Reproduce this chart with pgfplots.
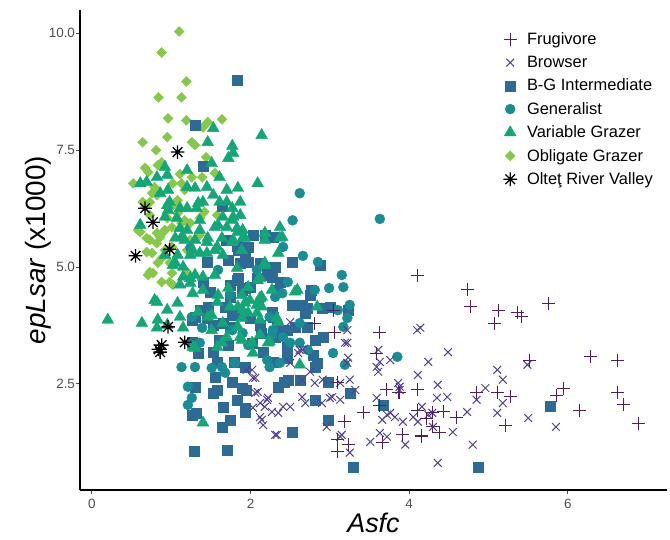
\documentclass[border=0pt]{standalone}
\usepackage{fontspec}
\setmainfont{Liberation Sans}
\usepackage{pgfplots}
\pgfplotsset{compat=1.18}
\definecolor{cFrug}{HTML}{4F1F63}
\definecolor{cBrow}{HTML}{4F4392}
\definecolor{cBG}{HTML}{2E6A96}
\definecolor{cGen}{HTML}{1A8C94}
\definecolor{cVG}{HTML}{14A677}
\definecolor{cOG}{HTML}{86C94A}
\definecolor{tickgray}{HTML}{4D4D4D}
\pgfdeclareplotmark{ast}{%
 \pgfpathmoveto{\pgfqpoint{-\pgfplotmarksize}{0pt}}\pgfpathlineto{\pgfqpoint{\pgfplotmarksize}{0pt}}%
 \pgfpathmoveto{\pgfqpoint{0pt}{-\pgfplotmarksize}}\pgfpathlineto{\pgfqpoint{0pt}{\pgfplotmarksize}}%
 \pgfpathmoveto{\pgfqpoint{-.707\pgfplotmarksize}{-.707\pgfplotmarksize}}\pgfpathlineto{\pgfqpoint{.707\pgfplotmarksize}{.707\pgfplotmarksize}}%
 \pgfpathmoveto{\pgfqpoint{-.707\pgfplotmarksize}{.707\pgfplotmarksize}}\pgfpathlineto{\pgfqpoint{.707\pgfplotmarksize}{-.707\pgfplotmarksize}}%
 \pgfusepathqstroke}
\pgfplotsset{
 frug/.style={only marks, mark=+, mark size=6.5bp, line width=1bp, color=cFrug},
 brow/.style={only marks, mark=x, mark size=5.5bp, line width=1bp, color=cBrow},
 bg/.style={only marks, mark=square*, mark size=5bp, color=cBG, mark options={draw=cBG, fill=cBG}},
 gen/.style={only marks, mark=*, mark size=5bp, color=cGen, mark options={draw=cGen, fill=cGen}},
 vg/.style={only marks, mark=triangle*, mark size=6.8bp, color=cVG, mark options={draw=cVG, fill=cVG}},
 og/.style={only marks, mark=diamond*, mark size=5bp, color=cOG, mark options={draw=cOG, fill=cOG, xscale=1.33}},
 olt/.style={only marks, mark=ast, mark size=6.8bp, line width=1.3bp, color=black},
}
\begin{document}
\begin{tikzpicture}
\begin{axis}[
 scale only axis, width=587bp, height=480bp,
 xmin=-0.15, xmax=7.25, ymin=0.23, ymax=10.5,
 axis x line*=bottom, axis y line*=left,
 axis line style={-, line width=1.3bp, black},
 xtick={0,2,4,6}, ytick={2.5,5,7.5,10},
 yticklabels={2.5,5.0,7.5,10.0},
 tick align=outside, major tick length=4bp,
 tick style={line width=1bp, tickgray},
 /pgf/number format/assume math mode=true,
 ticklabel style={font=\fontsize{13.5}{16}\selectfont, text=tickgray},
 yticklabel style={xshift=2.5bp},
 xticklabel style={yshift=-1.5bp},
 xlabel={\itshape Asfc}, ylabel={\textit{epLsar} (x1000)},
 xlabel style={font=\fontsize{27}{30}\selectfont, yshift=2bp},
 ylabel style={font=\fontsize{28}{32}\selectfont, yshift=-9bp},
 legend style={at={(0.721,0.957)}, anchor=north west, draw=none, fill=none,
   font=\fontsize{16.5}{19}\selectfont, row sep=6bp, column sep=8bp, inner sep=0pt},
 legend cell align=left,
]
\addlegendimage{frug}\addlegendentry{Frugivore}
\addlegendimage{brow}\addlegendentry{Browser}
\addlegendimage{bg}\addlegendentry{B-G Intermediate}
\addlegendimage{gen}\addlegendentry{Generalist}
\addlegendimage{vg}\addlegendentry{Variable Grazer}
\addlegendimage{og}\addlegendentry{Obligate Grazer}
\addlegendimage{olt}\addlegendentry{Olteţ River Valley}

% Obligate Grazer
\addplot[og, forget plot] table {
x y
1.10 10.04
0.88 9.59
1.19 8.97
0.84 8.63
1.13 8.63
0.96 8.18
1.19 8.14
1.64 8.16
1.46 8.10
1.40 7.99
0.64 7.67
0.95 7.78
0.81 7.50
1.26 7.67
1.30 7.61
1.44 7.35
1.55 7.01
1.11 6.99
0.67 7.12
0.71 7.03
0.83 7.18
0.88 7.24
0.52 6.79
0.79 6.71
0.76 6.58
1.13 6.79
1.26 6.92
1.39 6.92
0.73 6.39
0.67 6.28
1.08 6.43
1.02 6.32
1.42 6.18
1.58 6.11
0.58 5.79
0.92 5.79
0.86 5.64
1.13 5.94
0.69 5.62
1.24 5.94
1.02 6.79
1.17 6.65
0.82 6.54
1.11 6.22
0.64 6.39
0.73 6.11
0.95 6.05
1.01 5.85
0.90 5.75
0.82 5.73
1.17 6.00
1.36 5.68
1.01 5.43
1.36 6.05
0.61 5.75
0.73 5.58
0.69 5.32
0.76 5.30
0.83 5.09
0.73 4.89
0.77 4.87
0.71 4.83
0.88 4.68
0.98 4.68
1.02 4.62
1.01 4.87
1.20 4.89
1.24 5.30
1.20 5.36
0.88 5.19
0.98 5.09
1.08 6.15
0.82 5.51
0.92 5.36
1.24 5.58
};
% B-G Intermediate
\addplot[bg, forget plot] table {
x y
1.83 9.00
1.30 8.03
1.40 7.16
1.64 6.30
1.69 5.58
1.83 5.45
1.97 5.43
2.03 5.68
2.28 5.64
2.18 5.68
1.84 5.36
1.97 5.11
1.87 5.09
2.12 5.09
2.21 5.00
1.45 5.11
1.40 4.68
1.49 4.47
1.74 4.62
1.84 4.76
1.90 4.51
1.99 4.57
2.08 4.76
2.22 4.83
2.31 5.00
1.46 4.15
1.68 4.15
1.80 4.02
1.99 3.91
2.12 3.76
2.27 4.04
1.30 3.93
1.74 3.72
2.33 3.72
2.52 5.11
2.88 5.04
1.93 5.21
2.27 4.79
2.37 4.68
1.83 4.72
1.93 4.55
2.33 4.51
2.77 4.51
2.75 4.40
2.52 4.19
2.72 4.12
2.90 4.12
3.00 4.15
3.23 4.08
2.28 3.93
1.74 4.36
1.77 3.97
1.36 4.08
1.53 3.76
1.65 3.80
2.65 4.19
2.56 3.72
2.14 3.59
2.31 3.50
2.02 3.38
2.16 3.18
2.28 2.97
2.46 3.06
1.80 2.97
1.93 2.86
1.58 2.97
1.55 2.65
1.77 2.54
1.89 2.41
1.58 2.37
1.53 2.31
1.65 2.01
1.27 1.84
1.74 1.73
1.64 1.58
1.93 1.99
2.47 2.59
2.35 2.44
1.34 3.16
1.27 3.40
1.27 3.87
1.53 3.18
1.72 3.33
1.30 2.44
1.32 1.88
1.83 2.16
1.95 2.37
1.93 1.90
1.61 3.44
1.45 3.91
1.72 5.15
2.69 4.02
2.46 3.65
2.71 3.72
2.81 3.44
2.91 3.50
2.46 3.29
2.79 3.12
2.81 2.86
2.43 2.54
2.81 2.16
2.98 2.54
3.25 2.31
2.98 1.73
2.52 1.47
3.67 2.05
2.84 2.95
2.62 2.59
1.29 1.05
1.70 1.09
3.29 0.71
4.87 0.71
5.78 2.03
};
% Generalist
\addplot[gen, forget plot] table {
x y
2.62 6.58
2.53 6.00
3.63 6.03
2.41 5.43
2.66 5.24
2.85 5.11
3.15 4.83
2.99 4.55
3.17 4.57
3.25 4.19
3.10 4.08
3.22 3.91
3.17 3.72
3.04 3.16
2.72 3.23
3.19 2.91
3.85 3.08
2.62 3.38
2.47 4.68
2.40 4.44
2.31 4.36
2.24 3.93
2.28 3.65
2.41 3.50
2.50 3.38
2.24 2.86
2.37 2.95
2.62 3.80
2.08 4.94
1.26 3.93
1.36 3.38
1.13 2.86
1.30 2.86
1.51 2.84
1.80 2.95
1.21 2.44
1.26 2.20
1.21 2.05
1.97 3.33
2.21 3.01
2.27 3.55
1.90 3.59
1.77 3.65
1.64 2.86
1.68 2.74
1.59 4.94
1.39 3.70
1.24 5.41
1.74 4.40
2.12 4.29
2.81 4.51
};
% Variable Grazer
\addplot[vg, forget plot] table {
x y
1.53 7.97
2.14 7.82
1.46 7.67
1.77 7.59
1.78 7.44
1.72 7.33
0.92 7.14
1.20 7.07
1.51 7.22
1.61 6.92
0.61 6.79
0.69 6.82
0.82 6.92
0.95 6.97
2.09 6.79
1.20 6.71
1.30 6.69
1.45 6.71
1.70 6.65
1.84 6.69
0.86 6.58
0.96 6.65
0.98 6.39
1.40 6.39
1.34 6.37
1.53 6.54
1.61 6.39
1.70 6.39
0.96 6.22
1.11 6.26
1.20 6.26
0.92 6.07
1.07 6.05
1.36 6.00
1.65 6.07
1.78 6.07
1.87 6.11
0.61 5.90
1.11 5.83
1.20 5.79
1.36 5.79
1.59 5.90
1.70 5.85
1.83 5.83
1.90 5.79
1.05 5.62
1.17 5.58
1.30 5.58
1.45 5.53
1.64 5.62
1.78 5.58
1.90 5.62
2.18 5.58
0.95 6.32
1.32 6.26
1.77 6.00
1.55 5.85
1.84 5.75
2.18 5.73
1.13 5.64
1.46 5.62
1.58 5.43
1.89 5.36
1.36 5.30
1.24 5.26
1.65 5.26
1.08 5.26
1.05 5.09
1.15 4.79
1.30 4.83
1.40 4.79
1.55 4.83
1.24 4.66
1.40 4.51
1.59 4.40
1.27 4.44
0.79 4.29
1.08 4.23
1.97 4.57
1.99 4.29
1.89 4.40
2.12 4.34
2.27 4.51
2.12 4.76
2.18 5.09
1.58 4.25
1.74 4.15
1.84 4.15
2.08 4.19
1.34 4.04
1.51 3.97
0.95 4.08
0.83 3.87
1.11 3.93
1.89 3.91
2.08 4.02
0.95 3.76
0.82 3.70
0.82 4.25
1.15 3.70
1.30 3.27
0.20 3.87
0.63 3.80
1.40 1.67
1.46 3.93
1.51 3.65
1.58 3.29
1.70 3.50
1.65 3.80
1.87 3.50
1.84 3.72
2.02 3.38
2.12 3.55
2.22 3.38
2.12 3.87
1.90 4.08
2.14 4.36
1.72 4.55
1.11 4.62
1.24 4.76
1.15 5.00
1.02 5.04
0.92 5.26
1.27 5.36
1.45 5.30
1.55 5.36
1.77 5.53
1.93 5.62
2.37 5.85
2.40 5.64
2.35 5.30
2.18 5.04
1.83 4.98
2.09 4.72
2.59 4.51
2.14 4.15
1.97 4.02
2.33 3.91
2.84 4.15
1.77 6.26
1.87 6.39
2.37 5.62
2.56 4.47
2.35 3.82
2.24 3.40
2.62 2.91
2.03 3.16
1.93 4.23
1.89 3.44
1.64 3.38
1.27 3.29
};
% Browser
\addplot[brow, forget plot] table {
x y
4.14 3.70
4.49 3.18
4.24 2.97
4.11 2.69
4.36 2.48
3.88 2.44
4.35 2.20
4.48 2.22
4.16 2.01
4.29 1.88
3.92 1.69
4.11 1.69
4.30 1.58
4.55 1.47
3.95 1.20
4.80 1.20
4.36 0.81
4.73 1.90
4.85 2.16
4.96 2.41
5.11 2.80
5.18 2.59
5.18 2.09
5.11 1.88
5.49 2.91
5.50 1.77
5.85 1.58
3.22 3.38
3.63 2.97
3.23 3.06
3.61 2.76
3.86 2.52
3.32 2.37
3.03 2.22
2.65 2.22
2.50 2.01
2.69 2.09
3.13 2.16
2.90 2.09
3.59 2.20
3.72 1.84
3.82 1.79
4.24 1.84
2.96 1.58
3.15 1.41
3.51 1.26
3.63 1.45
3.72 1.37
3.25 1.03
3.22 3.65
2.50 3.82
2.62 3.23
2.65 2.59
2.41 2.01
2.02 2.80
2.06 2.63
2.09 2.33
2.22 2.20
2.18 2.01
2.12 1.79
2.27 1.90
2.60 3.16
2.35 1.88
2.16 1.62
1.95 2.80
2.03 2.63
2.06 2.31
2.12 2.09
2.21 2.16
2.14 1.73
2.33 1.41
2.03 1.99
2.31 1.41
3.19 3.38
3.22 2.95
3.00 2.20
3.13 2.52
3.25 2.59
2.75 2.76
2.81 2.52
2.91 2.59
2.50 2.95
2.66 3.23
3.13 1.37
3.66 1.73
3.76 1.88
3.88 2.37
4.10 3.65
3.76 3.01
3.61 3.23
3.59 2.86
4.05 1.79
};
% Frugivore
\addplot[frug, forget plot] table {
x y
4.10 4.83
4.74 4.51
4.77 4.15
5.12 4.06
5.07 3.80
5.36 4.02
5.41 3.95
5.76 4.21
5.52 3.01
6.29 3.08
6.62 3.01
5.95 2.41
5.86 2.26
6.15 1.94
6.63 2.31
6.70 2.07
6.89 1.65
5.22 1.62
5.11 2.31
4.85 2.31
5.28 2.22
4.60 1.79
4.43 1.90
4.11 2.37
3.88 2.31
4.11 1.94
4.15 1.39
4.38 1.47
3.92 1.41
4.22 1.77
3.63 3.59
3.59 3.16
3.04 4.08
2.81 3.80
3.06 3.59
3.72 2.37
3.86 2.31
3.63 2.03
3.42 1.88
3.09 2.52
3.19 1.69
3.09 1.30
3.23 1.20
3.10 1.05
4.16 1.37
3.66 1.24
4.29 1.88
4.30 1.58
};
% Oltet River Valley
\addplot[olt, forget plot] table {
x y
1.08 7.46
0.67 6.26
0.77 5.96
0.98 5.38
0.55 5.24
0.96 3.72
1.17 3.39
0.88 3.33
0.86 3.18
0.84 3.24
};
\end{axis}
\pgfresetboundingbox
\path[use as bounding box] ([shift={(-80bp,-49bp)}]current axis.south west) rectangle ([shift={(3bp,10bp)}]current axis.north east);
\end{tikzpicture}
\end{document}
